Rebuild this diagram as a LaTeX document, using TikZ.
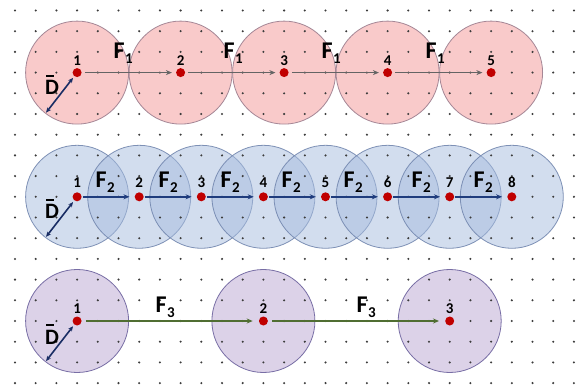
\documentclass[tikz,border=0pt]{standalone}
\usepackage{fontspec}
\setmainfont{Carlito}
\usetikzlibrary{arrows.meta,calc}
\definecolor{pinkfill}{RGB}{249,202,202}
\definecolor{pinkline}{RGB}{165,135,150}
\definecolor{bluefill}{RGB}{167,189,223}
\definecolor{blueline}{RGB}{115,135,175}
\definecolor{lavfill}{RGB}{220,210,232}
\definecolor{lavline}{RGB}{120,110,165}
\definecolor{ptred}{RGB}{192,0,0}
\definecolor{griddot}{RGB}{60,60,60}
\definecolor{grayarrow}{RGB}{100,100,100}
\definecolor{bluearrow}{RGB}{31,60,125}
\definecolor{greenarrow}{RGB}{80,110,50}
\definecolor{navyarrow}{RGB}{25,45,100}
\newcommand\Fsub[1]{F\kern0.3pt\raisebox{-5pt}{\fontsize{15}{15}\selectfont #1}}
\begin{document}
\begin{tikzpicture}[x=1pt,y=-1pt,
  ptdot/.style={circle,fill=ptred,inner sep=0pt,minimum size=9pt},
  numlab/.style={font=\fontsize{15}{15}\selectfont\bfseries,inner sep=0pt,anchor=base},
  flab/.style={font=\fontsize{24}{24}\selectfont\bfseries,inner sep=0pt,anchor=base west},
  dlab/.style={font=\fontsize{22}{22}\selectfont\bfseries,inner sep=0pt},
  dbar/.style={line width=1.6pt,black},
  pinkcirc/.style={fill=pinkfill,draw=pinkline,line width=0.8pt},
  bluecirc/.style={fill=bluefill,fill opacity=0.5,draw=blueline,draw opacity=0.9,line width=0.8pt},
  lavcirc/.style={fill=lavfill,draw=lavline,line width=0.8pt},
  grayarr/.style={draw=grayarrow,line width=1.5pt,-{Stealth[length=6pt,width=5pt]},shorten <=3pt,shorten >=4pt},
  bluearr/.style={draw=bluearrow,line width=1.5pt,-{Stealth[length=6pt,width=5pt]},shorten <=1pt,shorten >=5pt},
  greenarr/.style={draw=greenarrow,line width=1.5pt,-{Stealth[length=6pt,width=5pt]},shorten <=4pt,shorten >=6pt},
  darr/.style={draw=navyarrow,line width=1.6pt,{Stealth[length=5pt,width=4.5pt]}-{Stealth[length=5pt,width=4.5pt]},shorten >=2pt}
]
\useasboundingbox (0,0) rectangle (581,385);
\fill[white] (0,0) rectangle (581,385);
% circles
\foreach \c in {3,8,13,18,23}
  \draw[pinkcirc] (15+20.7*\c,72.6) circle (51.5pt);
\foreach \c in {3,6,9,12,15,18,21,24}
  \draw[bluecirc] (15+20.7*\c,196.8) circle (51.5pt);
\foreach \c in {3,12,21}
  \draw[lavcirc] (15+20.7*\c,321) circle (51.5pt);
% dot grid
\foreach \c in {0,...,27}
  \foreach \r in {0,...,18}
    \fill[griddot] (15+20.7*\c,10.5+20.7*\r) circle (1.15pt);
% points
\foreach \i/\c in {1/3,2/8,3/13,4/18,5/23}
  \node[ptdot] (t\i) at (15+20.7*\c,72.6) {};
\foreach \i/\c in {1/3,2/6,3/9,4/12,5/15,6/18,7/21,8/24}
  \node[ptdot] (m\i) at (15+20.7*\c,196.8) {};
\foreach \i/\c in {1/3,2/12,3/21}
  \node[ptdot] (b\i) at (15+20.7*\c,321) {};
% number labels
\foreach \i in {1,...,5}
  \node[numlab] (tn\i) at ($(t\i)+(0,-7.5)$) {\i};
\foreach \i in {1,...,8}
  \node[numlab] (mn\i) at ($(m\i)+(0,-9)$) {\i};
\foreach \i in {1,...,3}
  \node[numlab] (bn\i) at ($(b\i)+(0,-8)$) {\i};
% arrows
\draw[grayarr] (t1) -- (t2);
\draw[grayarr] (t2) -- (t3);
\draw[grayarr] (t3) -- (t4);
\draw[grayarr] (t4) -- (t5);
\draw[bluearr] (m1) -- (m2);
\draw[bluearr] (m2) -- (m3);
\draw[bluearr] (m3) -- (m4);
\draw[bluearr] (m4) -- (m5);
\draw[bluearr] (m5) -- (m6);
\draw[bluearr] (m6) -- (m7);
\draw[bluearr] (m7) -- (m8);
\draw[greenarr] (b1) -- (b2);
\draw[greenarr] (b2) -- (b3);
% D radius arrows
\coordinate (td) at ($(t1)+(-31,40)$);
\coordinate (md) at ($(m1)+(-31,40)$);
\coordinate (bd) at ($(b1)+(-31,40)$);
\draw[darr] (td) -- (t1);
\draw[darr] (md) -- (m1);
\draw[darr] (bd) -- (b1);
% D labels
\node[dlab] (dt) at ($(t1)+(-25,15)$) {D};
\node[dlab] (dm) at ($(m1)+(-25,15)$) {D};
\node[dlab] (db) at ($(b1)+(-25,16)$) {D};
\foreach \n in {dt,dm,db}
  \draw[dbar] ([xshift=1.5pt,yshift=4.5pt]\n.north west) -- ++(8,0);
% F labels
\foreach \x/\k in {113.5/1,223.5/2,321.5/3,425.5/4}
  \node[flab] (ft\k) at (\x,59) {\Fsub{1}};
\foreach \x/\k in {95.5/1,158.5/2,220.5/3,281.5/4,343.5/5,411.5/6,473.5/7}
  \node[flab] (fm\k) at (\x,187) {\Fsub{2}};
\foreach \x/\k in {155.5/1,356.5/2}
  \node[flab] (fb\k) at (\x,312) {\Fsub{3}};
\end{tikzpicture}
\end{document}
